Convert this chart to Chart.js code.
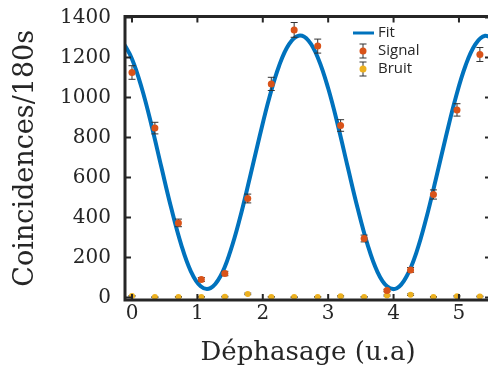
<!DOCTYPE html>
<html>
<head>
<meta charset="utf-8">
<script src="https://cdn.jsdelivr.net/npm/chart.js@4.4.0/dist/chart.umd.min.js"></script>
<style>
html, body { margin: 0; padding: 0; overflow: hidden; background: #fff; }
#wrap { width: 495px; height: 369px; }
</style>
</head>
<body>
<div id="wrap"><canvas id="chart" width="495" height="369"></canvas></div>
<script>
var phase = [0, 0.35, 0.71, 1.06, 1.42, 1.77, 2.13, 2.48, 2.84, 3.19, 3.55, 3.9, 4.26, 4.61, 4.97, 5.32];
var signal = [1125, 847, 373, 90, 120, 495, 1068, 1338, 1257, 860, 295, 35, 138, 515, 938, 1215];
var signalErr = [34, 29, 19, 10, 11, 22, 33, 37, 35, 29, 17, 6, 12, 23, 31, 35];
var bruit = [7, 2, 3, 3, 4, 18, 3, 2, 3, 6, 3, 10, 14, 3, 6, 5];
var bruitErr = [3, 2, 2, 2, 2, 4, 2, 2, 2, 3, 2, 3, 4, 2, 3, 2];

// courbe ajustee, relevee tous les 0.15
var fitX = [-0.15, 0, 0.15, 0.3, 0.45, 0.6, 0.75, 0.9, 1.05, 1.2, 1.35, 1.5, 1.65, 1.8, 1.95,
  2.1, 2.25, 2.4, 2.55, 2.7, 2.85, 3.0, 3.15, 3.3, 3.45, 3.6, 3.75, 3.9, 4.05, 4.2, 4.35,
  4.5, 4.65, 4.8, 4.95, 5.1, 5.25, 5.4, 5.55];
var fitY = [1284, 1193, 1046, 859, 651, 447, 267, 131, 56, 47, 105, 227, 396, 596, 804,
  999, 1159, 1266, 1309, 1284, 1193, 1046, 859, 651, 447, 267, 131, 56, 46, 106, 226,
  396, 596, 804, 999, 1159, 1266, 1309, 1284];

var xTicks = [0, 1, 2, 3, 4, 5];
var yTicks = [0, 200, 400, 600, 800, 1000, 1200, 1400];

var BLUE = '#0072BD', RED = '#D95319', YEL = '#EDB120', INK = '#262626';

function pts(xs, ys) {
  return xs.map(function (v, i) { return { x: v, y: ys[i] }; });
}

var errorBars = {
  id: 'errorBars',
  beforeDatasetDraw: function (chart, args) {
    var ds = chart.data.datasets[args.index];
    if (!ds.errors) return;
    var ctx = chart.ctx, x = chart.scales.x, y = chart.scales.y;
    ctx.save();
    ctx.strokeStyle = '#333';
    ctx.lineWidth = 1;
    ds.data.forEach(function (p, i) {
      var px = x.getPixelForValue(p.x);
      var t = y.getPixelForValue(p.y + ds.errors[i]);
      var b = y.getPixelForValue(p.y - ds.errors[i]);
      ctx.beginPath();
      ctx.moveTo(px, t); ctx.lineTo(px, b);
      ctx.moveTo(px - 3.5, t); ctx.lineTo(px + 3.5, t);
      ctx.moveTo(px - 3.5, b); ctx.lineTo(px + 3.5, b);
      ctx.stroke();
    });
    ctx.restore();
  }
};

var frame = {
  id: 'frame',
  afterDraw: function (chart) {
    var ctx = chart.ctx, a = chart.chartArea, x = chart.scales.x, y = chart.scales.y;
    ctx.save();
    ctx.strokeStyle = INK;
    ctx.lineWidth = 2;
    ctx.beginPath();
    xTicks.forEach(function (v) {
      var px = x.getPixelForValue(v);
      ctx.moveTo(px, a.bottom); ctx.lineTo(px, a.bottom - 6);
      ctx.moveTo(px, a.top); ctx.lineTo(px, a.top + 6);
    });
    yTicks.forEach(function (v) {
      var py = y.getPixelForValue(v);
      ctx.moveTo(a.left, py); ctx.lineTo(a.left + 6, py);
      ctx.moveTo(a.right, py); ctx.lineTo(a.right - 6, py);
    });
    ctx.stroke();
    ctx.lineWidth = 3;
    ctx.strokeRect(a.left, a.top, a.right - a.left, a.bottom - a.top);

    // legende
    var lx = 363;
    ctx.strokeStyle = BLUE;
    ctx.lineWidth = 3;
    ctx.beginPath();
    ctx.moveTo(353, 33); ctx.lineTo(374, 33);
    ctx.stroke();
    [[51, RED], [69, YEL]].forEach(function (r) {
      ctx.strokeStyle = '#333';
      ctx.lineWidth = 1;
      ctx.beginPath();
      ctx.moveTo(lx, r[0] - 7); ctx.lineTo(lx, r[0] + 7);
      ctx.moveTo(lx - 3.5, r[0] - 7); ctx.lineTo(lx + 3.5, r[0] - 7);
      ctx.moveTo(lx - 3.5, r[0] + 7); ctx.lineTo(lx + 3.5, r[0] + 7);
      ctx.stroke();
      ctx.fillStyle = r[1];
      ctx.beginPath();
      ctx.arc(lx, r[0], 3.5, 0, Math.PI * 2);
      ctx.fill();
    });
    ctx.fillStyle = INK;
    ctx.font = '15px "Open Sans"';
    ctx.textBaseline = 'middle';
    ctx.textAlign = 'left';
    ctx.fillText('Fit', 378, 33);
    ctx.fillText('Signal', 378, 51);
    ctx.fillText('Bruit', 378, 69);
    ctx.restore();
  }
};

function noPad(s) {
  s.paddingTop = 0; s.paddingBottom = 0; s.paddingLeft = 0; s.paddingRight = 0;
}

new Chart(document.getElementById('chart'), {
  type: 'scatter',
  data: {
    datasets: [
      {
        label: 'Signal',
        data: pts(phase, signal),
        errors: signalErr,
        pointRadius: 3.5,
        pointBackgroundColor: RED,
        pointBorderColor: RED,
        pointBorderWidth: 0
      },
      {
        label: 'Bruit',
        data: pts(phase, bruit),
        errors: bruitErr,
        pointRadius: 3,
        pointBackgroundColor: YEL,
        pointBorderColor: YEL,
        pointBorderWidth: 0
      },
      {
        label: 'Fit',
        data: pts(fitX, fitY),
        showLine: true,
        borderColor: BLUE,
        borderWidth: 4,
        pointRadius: 0,
        tension: 0.4,
        fill: false
      }
    ]
  },
  plugins: [errorBars, frame],
  options: {
    responsive: false,
    animation: false,
    layout: { padding: { top: 16.5, right: 4, bottom: 0, left: 0 } },
    plugins: { legend: { display: false }, tooltip: { enabled: false } },
    scales: {
      x: {
        type: 'linear',
        min: -0.107,
        max: 5.49,
        afterBuildTicks: function (s) { s.ticks = xTicks.map(function (v) { return { value: v }; }); },
        afterFit: function (s) { s.height = 69; noPad(s); },
        grid: { display: false, drawTicks: false },
        border: { display: false },
        ticks: {
          color: INK, padding: 2, font: { family: 'DejaVu Serif', size: 20 },
          callback: function (v) { return String(v); }
        },
        title: {
          display: true,
          text: 'Déphasage (u.a)',
          color: INK,
          padding: { top: 0, bottom: 0 },
          font: { family: 'DejaVu Serif', size: 26 }
        }
      },
      y: {
        min: -12.5,
        max: 1405,
        afterBuildTicks: function (s) { s.ticks = yTicks.map(function (v) { return { value: v }; }); },
        afterFit: function (s) { s.width = 125; noPad(s); },
        grid: { display: false, drawTicks: false },
        border: { display: false },
        ticks: {
          color: INK, padding: 14, font: { family: 'DejaVu Serif', size: 20 },
          callback: function (v) { return String(v); }
        },
        title: {
          display: true,
          text: 'Coincidences/180s',
          color: INK,
          padding: { top: 10, bottom: 0 },
          font: { family: 'DejaVu Serif', size: 27 }
        }
      }
    }
  }
});
</script>
</body>
</html>
